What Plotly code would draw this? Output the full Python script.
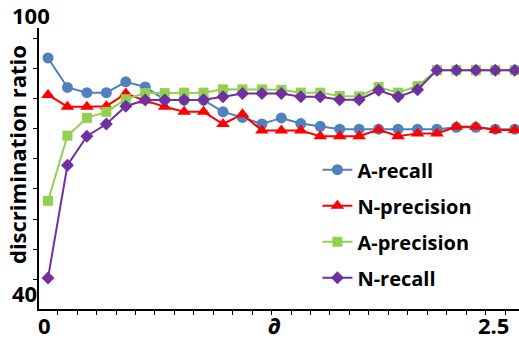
import plotly.graph_objects as go

# category positions along the ∂ axis (25 settings)
delta_idx = list(range(25))

a_recall = [93.6, 87.3, 86.2, 86.2, 88.5, 87.4, 84.7, 84.6, 84.6, 82.1, 80.9, 79.5, 80.8,
            79.6, 79.0, 78.4, 78.4, 78.4, 78.4, 78.4, 78.4, 78.8, 78.8, 78.4, 78.4]
n_precision = [85.7, 83.2, 83.2, 83.3, 86.0, 84.5, 83.2, 82.1, 82.1, 79.5, 81.6, 78.1, 78.1,
               78.1, 76.9, 76.9, 76.9, 78.3, 76.9, 77.5, 77.5, 78.9, 78.9, 78.2, 78.2]
a_precision = [63.1, 77.0, 80.8, 82.1, 84.8, 86.1, 86.1, 86.2, 86.2, 86.9, 86.9, 86.9, 86.8,
               86.2, 86.2, 85.5, 85.4, 87.4, 86.2, 87.6, 91.0, 91.0, 91.0, 91.0, 91.0]
n_recall = [46.6, 70.7, 76.9, 79.5, 83.3, 84.6, 84.6, 84.7, 84.7, 85.3, 86.0, 86.0, 86.0,
            85.3, 85.3, 84.7, 84.7, 86.7, 85.3, 86.8, 91.0, 91.0, 91.0, 91.0, 91.0]

series_names = ["A-recall", "N-precision", "A-precision", "N-recall"]
series_vals = [a_recall, n_precision, a_precision, n_recall]
colors = ["#4F81BD", "#FF0000", "#92D050", "#7030A0"]
symbols = ["circle", "triangle-up", "square", "diamond"]
sizes = [11, 12, 10, 10]

# manual tick labels
x_tick_pos = [-0.2, 11.67, 22.9]
x_tick_text = ["0", "∂", "2.5"]
y_tick_text = ["100", "40"]

y_min, y_max = 40, 100
y_major = [40 + 6.406 * k for k in range(1, 10)]

fig = go.Figure()
for i, (name, vals) in enumerate(zip(series_names, series_vals)):
    fig.add_trace(go.Scatter(
        x=delta_idx, y=vals, name=name, mode="lines+markers",
        line=dict(color=colors[i], width=2),
        marker=dict(symbol=symbols[i], size=sizes[i], color=colors[i]),
        legendgroup=name,
    ))

font_fam = "Open Sans, Liberation Sans, sans-serif"

fig.update_layout(
    width=519, height=341,
    margin=dict(l=39, r=0, t=28, b=32, autoexpand=False),
    paper_bgcolor="white", plot_bgcolor="white",
    showlegend=True,
    legend=dict(x=0.58, y=0.565, xanchor="left", yanchor="top",
                font=dict(family=font_fam, size=20, color="black", weight="bold"),
                bgcolor="rgba(0,0,0,0)", tracegroupgap=7,
                itemwidth=30),
    font=dict(family=font_fam, color="black"),
)
fig.update_xaxes(
    range=[-0.463, 24.22], showgrid=False, zeroline=False, automargin=False,
    showline=True, linecolor="black", linewidth=2,
    tickmode="array", tickvals=[k - 0.5 for k in range(26)],
    ticks="outside", ticklen=4, tickcolor="black", tickwidth=1,
    showticklabels=False,
)
fig.update_yaxes(
    range=[y_min, y_max], showgrid=False, zeroline=False, automargin=False,
    showline=True, linecolor="black", linewidth=2,
    tickmode="array", tickvals=y_major,
    ticks="outside", ticklen=4, tickcolor="black", tickwidth=1,
    showticklabels=False,
)

lab_font = dict(family=font_fam, size=22, color="black", weight="bold")
for pos, txt in zip(x_tick_pos, x_tick_text):
    fig.add_annotation(x=pos, y=0, xref="x", yref="paper", yshift=-16,
                       xanchor="center", yanchor="middle",
                       text=txt, showarrow=False, font=lab_font)
fig.add_annotation(x=0, xref="paper", xshift=-8, y=1, yref="paper", yshift=13,
                   xanchor="center", yanchor="middle",
                   text=y_tick_text[0], showarrow=False, font=lab_font)
fig.add_annotation(x=0, xref="paper", xshift=-15, y=0, yref="paper", yshift=16,
                   xanchor="center", yanchor="middle",
                   text=y_tick_text[1], showarrow=False, font=lab_font)
fig.add_annotation(x=0, xref="paper", xshift=-22, y=0.548, yref="paper",
                   xanchor="center", yanchor="middle",
                   text="discrimination ratio", textangle=-90, showarrow=False,
                   font=dict(family=font_fam, size=22, color="black", weight="bold"))

fig.write_html("out.html", config={"displayModeBar": False},
               post_script="document.body.style.margin='0';document.body.style.overflow='hidden';")
